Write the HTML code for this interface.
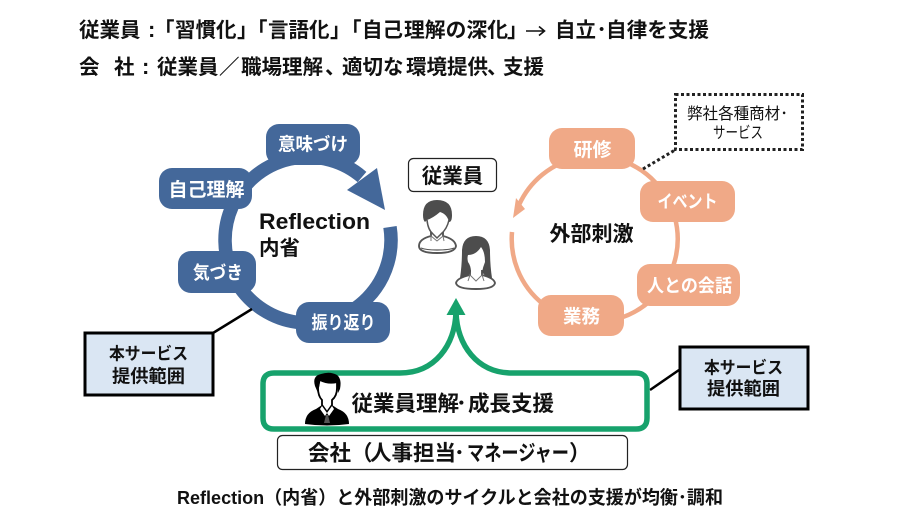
<!DOCTYPE html>
<html><head><meta charset="utf-8"><style>
html,body{margin:0;padding:0;background:#fff}
svg{display:block}
text{font-family:"Liberation Sans","Noto Sans CJK JP",sans-serif;font-weight:700;fill:#111}
.w{fill:#fff;text-anchor:middle}
.c{text-anchor:middle}
</style></head><body>
<svg width="900" height="528" viewBox="0 0 900 528" xmlns="http://www.w3.org/2000/svg">
<rect width="900" height="528" fill="#fff"/>
<g font-size="20.5">
<text x="79" y="37">従業員</text><text x="148" y="37" font-size="22">:</text>
<text x="154" y="37">「</text><text x="175" y="37">習慣化</text><text x="237" y="37">」</text>
<text x="247" y="37">「</text><text x="268" y="37">言語化</text><text x="330" y="37">」</text>
<text x="341" y="37">「</text><text x="362" y="37">自己</text><text x="404" y="37" textLength="104" lengthAdjust="spacingAndGlyphs">理解の深化</text><text x="507" y="37">」</text>
<text x="555" y="37">自立</text><text x="596.5" y="37">･</text><text x="606" y="37" textLength="103" lengthAdjust="spacingAndGlyphs">自律を支援</text>
<text x="79" y="74">会</text><text x="114" y="74">社</text><text x="142" y="74" font-size="22">:</text>
<text x="157" y="74">従業員</text><text x="219" y="74">／</text>
<text x="241" y="74">職場理解</text><text x="325" y="74">、</text>
<text x="342" y="74">適切な</text><text x="406" y="74">環境提供</text><text x="487" y="74">、</text><text x="503" y="74">支援</text>
</g>
<path d="M526 31 H544 M539 26.5 L544.5 31 L539 35.5" fill="none" stroke="#111" stroke-width="1.6"/>

<!-- blue ring -->
<path d="M390 227 A83 83 0 1 1 362 177" fill="none" stroke="#44689a" stroke-width="13.5"/>
<polygon points="385,210 377,168 347,190" fill="#44689a"/>
<g fill="#44689a">
<rect x="266" y="124" width="94" height="41" rx="13"/>
<rect x="159" y="168" width="93" height="41" rx="13"/>
<rect x="178" y="251" width="78" height="42" rx="13"/>
<rect x="296" y="302" width="94" height="41" rx="13"/>
</g>
<text class="w" x="313" y="150.5" font-size="18" textLength="70" lengthAdjust="spacingAndGlyphs">意味づけ</text>
<text class="w" x="206.5" y="196" font-size="19">自己理解</text>
<text class="w" x="218" y="279" font-size="18" textLength="50" lengthAdjust="spacingAndGlyphs">気づき</text>
<text class="w" x="343.5" y="329" font-size="18" textLength="64" lengthAdjust="spacingAndGlyphs">振り返り</text>
<text x="259" y="229" font-size="22.5" textLength="111" lengthAdjust="spacingAndGlyphs">Reflection</text>
<text x="259" y="255" font-size="20.5">内省</text>

<!-- orange ring -->
<path d="M512 232 A83 83 0 1 0 519 205" fill="none" stroke="#f0a987" stroke-width="4.5"/>
<polygon points="513,218 525,209 516,198" fill="#f0a987"/>
<g fill="#f0a987">
<rect x="549" y="128" width="86" height="41" rx="13"/>
<rect x="640" y="181" width="95" height="41" rx="13"/>
<rect x="637" y="264" width="103" height="42" rx="13"/>
<rect x="538" y="295" width="86" height="41" rx="13"/>
</g>
<text class="w" x="592.5" y="156" font-size="19">研修</text>
<text class="w" x="687.5" y="208" font-size="18" textLength="60" lengthAdjust="spacingAndGlyphs">イベント</text>
<text class="w" x="689.5" y="292" font-size="18" textLength="85" lengthAdjust="spacingAndGlyphs">人との会話</text>
<text class="w" x="581.5" y="323" font-size="18.5">業務</text>
<text class="c" x="591.5" y="241" font-size="21">外部刺激</text>

<!-- dotted callout -->
<rect x="675.5" y="94.5" width="127" height="55" fill="#fff" stroke="#222" stroke-width="3" stroke-dasharray="3 2.5"/>
<line x1="643" y1="169" x2="675" y2="150" stroke="#222" stroke-width="3" stroke-dasharray="3 2.5"/>
<text class="c" x="737.5" y="119" font-size="16" textLength="101" lengthAdjust="spacingAndGlyphs" style="font-weight:400">弊社各種商材･</text>
<text class="c" x="738" y="138" font-size="16" textLength="50" lengthAdjust="spacingAndGlyphs" style="font-weight:400">サービス</text>

<!-- employee label -->
<rect x="408.5" y="158.5" width="88" height="33" rx="5" fill="#fff" stroke="#222" stroke-width="1.2"/>
<text class="c" x="452.5" y="183" font-size="20.5">従業員</text>

<!-- male person -->
<g>
<path d="M431 232 L431 236 Q419 239 419 246 Q419 253 437 253 Q455 253 456 246 Q455 239 443 236 L443 232" fill="#fff" stroke="#555" stroke-width="1.9"/>
<path d="M421 248 Q426 250 437 250 Q449 250 454 248" fill="none" stroke="#555" stroke-width="1.2"/>
<path d="M431 241 L431 236 L437 241 L443 236 L444 241" fill="none" stroke="#777" stroke-width="1"/>
<path d="M427 220 Q428 230 433 234 L437 238 L441 234 Q447 229 449 220" fill="#fff" stroke="#555" stroke-width="1.5"/>
<path d="M423 215 Q423 200 437 200 Q452 200 452 215 Q452 222 449 222 Q447 214 440 212 Q433 218 427 220 L425 222 Q423 220 423 215Z" fill="#4d4d4d"/>
</g>
<!-- female person -->
<g>
<path d="M470 270 L470 275 Q457 278 456 283 Q457 289 476 289 Q494 289 495 283 Q494 278 482 275 L482 270" fill="#fff" stroke="#555" stroke-width="1.9"/>
<path d="M468 281 L470 275 L476 281 L482 275 L484 281" fill="none" stroke="#777" stroke-width="1"/>
<path d="M476 236 Q463 236 462 250 Q462 265 460 278 Q467 278 471 272 Q471 266 468 262 Q467 258 468 255 Q476 255 481 247 Q485 252 485 262 Q483 267 482 272 Q486 278 492 278 Q490 265 490 250 Q489 236 476 236Z" fill="#4d4d4d"/>
</g>

<!-- connectors -->
<line x1="213" y1="333" x2="252" y2="309" stroke="#000" stroke-width="2.5"/>
<line x1="650" y1="390" x2="679" y2="370" stroke="#000" stroke-width="2.5"/>

<!-- blue boxes -->
<rect x="85" y="333" width="128" height="62" fill="#dae6f3" stroke="#000" stroke-width="3"/>
<text class="c" x="148.5" y="359.5" font-size="17" textLength="79" lengthAdjust="spacingAndGlyphs">本サービス</text>
<text class="c" x="148.5" y="382.5" font-size="18" textLength="73" lengthAdjust="spacingAndGlyphs">提供範囲</text>
<rect x="680" y="347" width="128" height="62" fill="#dae6f3" stroke="#000" stroke-width="3"/>
<text class="c" x="743.5" y="373.5" font-size="17" textLength="79" lengthAdjust="spacingAndGlyphs">本サービス</text>
<text class="c" x="743.5" y="395" font-size="18" textLength="73" lengthAdjust="spacingAndGlyphs">提供範囲</text>

<!-- green -->
<path d="M456 312 C455 345 435 373 400 373 L274 373 Q263 373 263 384 L263 418 Q263 429 274 429 L636 429 Q647 429 647 418 L647 384 Q647 373 636 373 L512 373 C477 373 457 345 456 312Z" fill="#fff" stroke="#17a26c" stroke-width="5.5"/>
<polygon points="456,298 465.5,315 446.5,315" fill="#17a26c"/>

<!-- businessman -->
<path d="M305 424 Q305 413 316 409 L322 405 L327 412 L332 405 L338 409 Q349 413 349 424 Q327 427 305 424Z" fill="#000"/>
<path d="M318 388 Q318 396 322 400 L322 405 L327 412 L332 405 L332 400 Q337 396 337 388 L337 380 L320 378Z" fill="#fff" stroke="#000" stroke-width="1.8"/>
<path d="M315 386 Q312 376 321 374 Q330 371 337 375 Q342 379 340 389 L338 393 L337 383 Q328 385 320 381 L318 393Z" fill="#000"/>
<path d="M322 406 L327 413 L325 416 L320 409Z M332 406 L327 413 L329 416 L334 409Z" fill="#fff"/>
<path d="M326 415 L328 415 L330 423 L324 423Z" fill="#555"/>
<text x="351.5" y="411" font-size="21.5">従業員理解</text><text x="456" y="411" font-size="21.5">･</text><text x="468" y="411" font-size="21.5">成長支援</text>

<!-- company box -->
<rect x="277.5" y="435.5" width="350" height="34" rx="5" fill="#fff" stroke="#222" stroke-width="1.2"/>
<g font-size="21.5">
<text x="308" y="460.5">会社</text><text x="351" y="460.5">（</text><text x="370" y="460.5">人事担当</text><text x="454" y="460.5">･</text><text x="467" y="460.5" textLength="102" lengthAdjust="spacingAndGlyphs">マネージャー</text><text x="569" y="460.5">）</text>
</g>

<!-- caption -->
<text x="177" y="504" font-size="18.5" textLength="546" lengthAdjust="spacingAndGlyphs">Reflection（内省）と外部刺激のサイクルと会社の支援が均衡･調和</text>
</svg>
</body></html>
